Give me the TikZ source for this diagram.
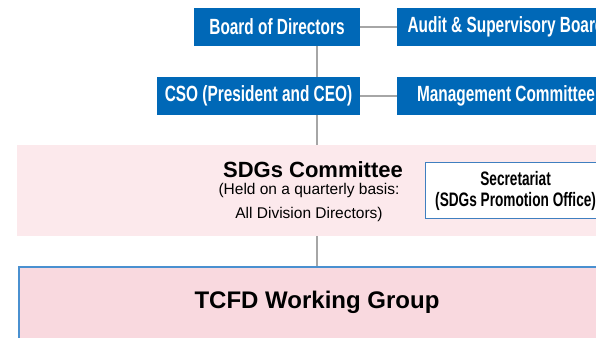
\documentclass[tikz,border=0pt]{standalone}
\usepackage{fontspec}
\setmainfont{Liberation Sans}
\newfontfamily\condfont[FakeStretch=0.70]{Liberation Sans}
\definecolor{boxblue}{HTML}{0068B7}
\definecolor{linegray}{HTML}{A6A6A6}
\definecolor{sdgpink}{HTML}{FCE9EC}
\definecolor{tcfdpink}{HTML}{F9D9DF}
\definecolor{tcfdblue}{HTML}{4A90D0}
\definecolor{secblue}{HTML}{3F7FC0}
\begin{document}
\begin{tikzpicture}[x=1pt,y=-1pt,
  bluebox/.style={fill=boxblue,text=white,inner sep=0pt,minimum height=38pt,
    font=\condfont\bfseries\fontsize{22}{24}\selectfont},
  band/.style={anchor=north west,inner sep=0pt,minimum width=600pt},
  link/.style={draw=linegray,line width=2pt}]
\useasboundingbox (0,0) rectangle (596,337);

\node[bluebox,minimum width=166pt] (board) at (277,27) {Board of Directors};
\node[bluebox,minimum width=218pt] (audit) at (506,27) {Audit \& Supervisory Board};

\node[bluebox,minimum width=203pt] (cso) at (258.5,96) {CSO (President and CEO)};
\node[bluebox,minimum width=218pt] (mgmt) at (506,96) {Management Committee};

\node[band,fill=sdgpink,minimum height=91pt] (sdgs) at (17,145) {};
\node[font=\bfseries\fontsize{22}{24}\selectfont] (sdgstitle) at (313,170) {SDGs Committee};
\node[font=\fontsize{15.5}{24}\selectfont,align=center] (sdgsnote) at (309,202)
  {(Held on a quarterly basis:\\All Division Directors)};
\node[draw=secblue,fill=white,line width=1.2pt,anchor=north west,inner sep=0pt,
  minimum width=180pt,minimum height=56pt,align=center,
  font=\condfont\bfseries\fontsize{19.5}{21}\selectfont] (sec) at (425,162)
  {Secretariat\\(SDGs Promotion Office)};

\node[band,draw=tcfdblue,line width=1.5pt,fill=tcfdpink,minimum height=90pt] (tcfd) at (18,266) {};
\node[font=\bfseries\fontsize{24}{26}\selectfont] (tcfdtitle) at (317,302) {TCFD Working Group};

\coordinate (spine) at (317,0);
\draw[link] (board) -- (audit);
\draw[link] (cso) -- (mgmt);
\draw[link] (board.south -| spine) -- (cso.north -| spine);
\draw[link] (cso.south -| spine) -- (sdgs.north -| spine);
\draw[link] (sdgs.south -| spine) -- (tcfd.north -| spine);
\end{tikzpicture}
\end{document}
